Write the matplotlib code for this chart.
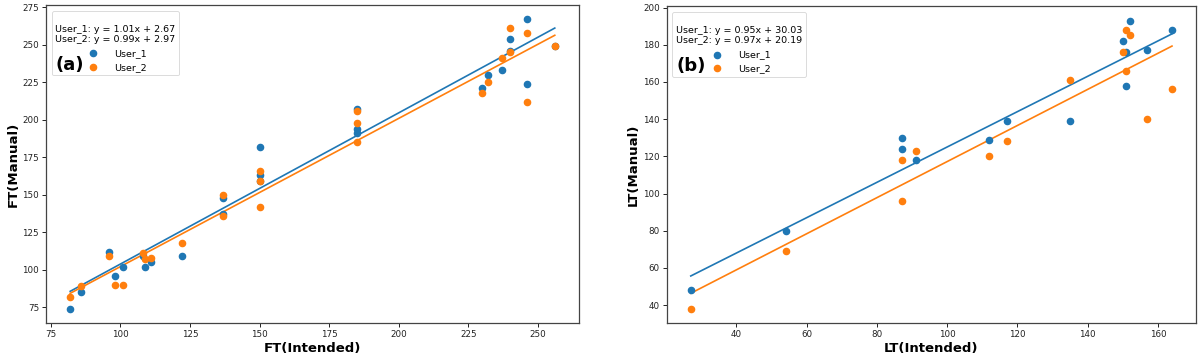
import numpy as np
import matplotlib
matplotlib.use("Agg")
import matplotlib.pyplot as plt

# panel (a): FT
ft_x_u1 = [82, 86, 96, 98, 101, 108, 109, 111, 122, 137, 137, 150, 150, 150,
           185, 185, 185, 230, 232, 237, 240, 240, 246, 246, 256]
ft_y_u1 = [74, 85, 112, 96, 102, 109, 102, 105, 109, 148, 137, 182, 163, 159,
           207, 194, 191, 221, 230, 233, 254, 246, 267, 224, 249]
ft_x_u2 = [82, 86, 96, 98, 101, 108, 109, 111, 122, 137, 137, 150, 150, 150,
           185, 185, 185, 230, 232, 237, 240, 240, 246, 246, 256]
ft_y_u2 = [82, 89, 109, 90, 90, 111, 107, 108, 118, 150, 136, 166, 159, 142,
           206, 198, 185, 218, 225, 241, 261, 245, 258, 212, 249]
ft_fit_u1 = [1.01, 2.67]
ft_fit_u2 = [0.99, 2.97]

# panel (b): LT
lt_x_u1 = [27, 54, 87, 87, 91, 112, 117, 135, 150, 151, 151, 152, 157, 164]
lt_y_u1 = [48, 80, 130, 124, 118, 129, 139, 139, 182, 176, 158, 193, 177, 188]
lt_x_u2 = [27, 54, 87, 87, 91, 112, 117, 135, 150, 151, 151, 152, 157, 164]
lt_y_u2 = [38, 69, 118, 96, 123, 120, 128, 161, 176, 188, 166, 185, 140, 156]
lt_fit_u1 = [0.95, 30.03]
lt_fit_u2 = [0.97, 20.19]

c1 = "#1f77b4"
c2 = "#ff7f0e"

fig = plt.figure(figsize=(12, 3.6), dpi=100)
ax1 = fig.add_axes([0.0383, 0.1028, 0.4442, 0.8834])
ax2 = fig.add_axes([0.5556, 0.102, 0.4411, 0.881])


def panel(ax, xu1, yu1, xu2, yu2, f1, f2, xlabel, ylabel, tag):
    ax.scatter(xu1, yu1, s=20, color=c1, label="User_1", zorder=2)
    ax.scatter(xu2, yu2, s=20, color=c2, label="User_2", zorder=2)
    xs1 = np.array([min(xu1), max(xu1)])
    xs2 = np.array([min(xu2), max(xu2)])
    ax.plot(xs1, f1[0] * xs1 + f1[1], color=c1, lw=1.2, zorder=1)
    ax.plot(xs2, f2[0] * xs2 + f2[1], color=c2, lw=1.2, zorder=1)
    title = "\nUser_1: y = %.2fx + %.2f\nUser_2: y = %.2fx + %.2f" % (
        f1[0], f1[1], f2[0], f2[1])
    leg = ax.legend(loc="upper left", title=title, fontsize=6.8,
                    title_fontsize=6.8, borderaxespad=0.6, handletextpad=1.2)
    leg.get_frame().set_linewidth(0.6)
    ax.text(0.018, 0.81, tag, transform=ax.transAxes, fontsize=13,
            fontweight="bold", ha="left", va="center", zorder=10)
    ax.set_xlabel(xlabel, fontsize=9.5, fontweight="bold", labelpad=2)
    ax.set_ylabel(ylabel, fontsize=9.5, fontweight="bold", labelpad=2)
    ax.tick_params(labelsize=6.3, length=3, width=0.7, pad=2, colors="#222222")
    for s in ax.spines.values():
        s.set_color("#444444")
        s.set_linewidth(0.9)


panel(ax1, ft_x_u1, ft_y_u1, ft_x_u2, ft_y_u2, ft_fit_u1, ft_fit_u2,
      "FT(Intended)", "FT(Manual)", "(a)")
panel(ax2, lt_x_u1, lt_y_u1, lt_x_u2, lt_y_u2, lt_fit_u1, lt_fit_u2,
      "LT(Intended)", "LT(Manual)", "(b)")

ax1.set_yticks([75, 100, 125, 150, 175, 200, 225, 250, 275])
ax1.set_xticks([75, 100, 125, 150, 175, 200, 225, 250])
ax2.set_yticks([40, 60, 80, 100, 120, 140, 160, 180, 200])
ax2.set_xticks([40, 60, 80, 100, 120, 140, 160])

fig.savefig("out.png", dpi=100)
